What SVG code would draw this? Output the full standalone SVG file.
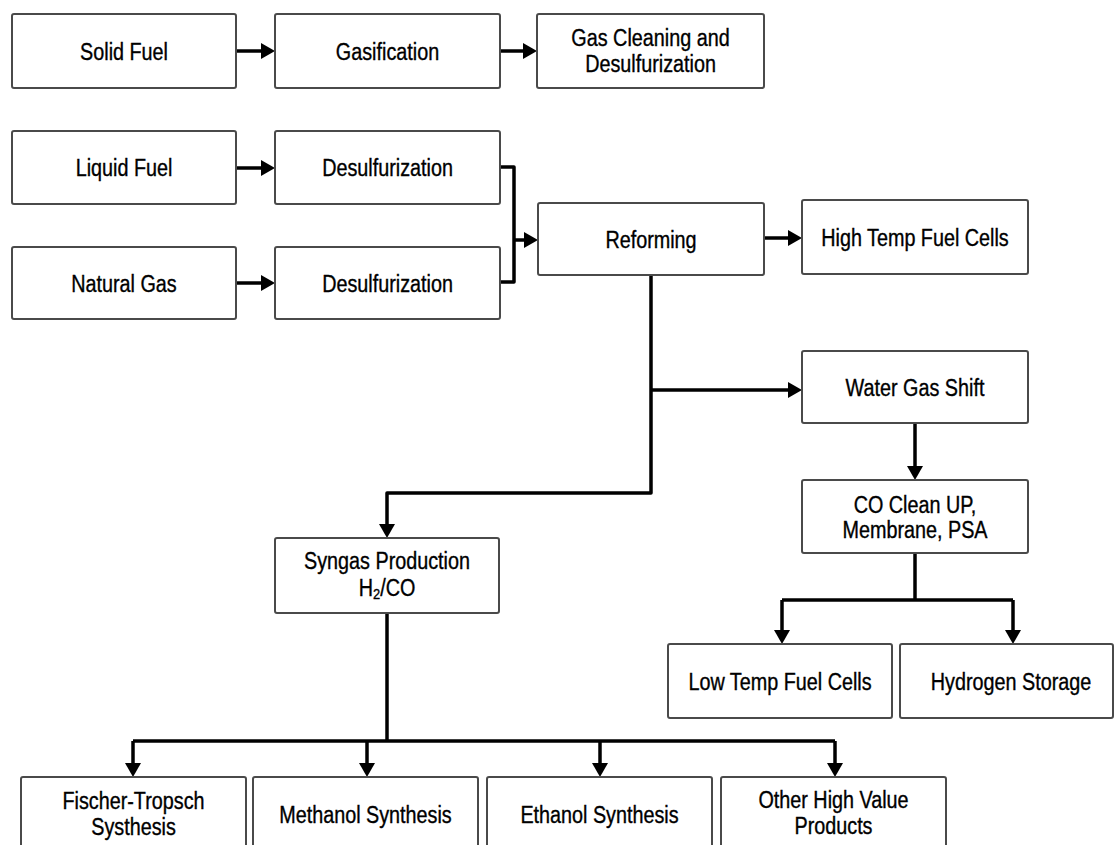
<svg xmlns="http://www.w3.org/2000/svg" width="1115" height="845" viewBox="0 0 1115 845">
  <defs>
    <marker id="arrow" viewBox="0 0 14 16" refX="10" refY="8" markerWidth="14" markerHeight="16" orient="auto" markerUnits="userSpaceOnUse">
      <path d="M0,0 L14,8 L0,16 z" fill="#000"/>
    </marker>
    <style>
      .box { fill: #fff; stroke: #4a4a4a; stroke-width: 2; }
      .lbl { font-family: "Liberation Sans", Arial, sans-serif; font-size: 23px; fill: #000; stroke: #000; stroke-width: 0.35; text-anchor: middle; }
      .link { fill: none; stroke: #000; stroke-width: 3.5; stroke-linejoin: round; }
      .arr { marker-end: url(#arrow); }
    </style>
  </defs>
  <rect width="1115" height="845" fill="#fff"/>

  <!-- connectors -->
  <g id="connectors">
    <path class="link arr" d="M236,51 H271"/>
    <path class="link arr" d="M500,51 H533"/>
    <path class="link arr" d="M236,168 H271"/>
    <path class="link arr" d="M236,283 H271"/>
    <path class="link" d="M500,167 H514 V282 H500"/>
    <path class="link arr" d="M514,240 H534"/>
    <path class="link arr" d="M764,238 H798"/>
    <path class="link arr" d="M651,275 V493 H387 V534"/>
    <path class="link arr" d="M651,390 H798"/>
    <path class="link arr" d="M915,423 V476"/>
    <path class="link" d="M915,553 V600"/>
    <path class="link" d="M782,600 H1013"/>
    <path class="link arr" d="M782,600 V640"/>
    <path class="link arr" d="M1013,600 V640"/>
    <path class="link" d="M387,613 V741"/>
    <path class="link" d="M133,741 H835"/>
    <path class="link arr" d="M133,741 V773"/>
    <path class="link arr" d="M367,741 V773"/>
    <path class="link arr" d="M600,741 V773"/>
    <path class="link arr" d="M835,741 V773"/>
  </g>

  <!-- fuel inputs and pre-treatment -->
  <g id="solid-fuel">
    <rect class="box" x="12" y="14" width="224" height="74" rx="2"/>
    <text class="lbl" transform="translate(124,59.5) scale(0.86,1)">Solid Fuel</text>
  </g>
  <g id="gasification">
    <rect class="box" x="275" y="14" width="225" height="74" rx="2"/>
    <text class="lbl" transform="translate(387.5,59.5) scale(0.86,1)">Gasification</text>
  </g>
  <g id="gas-cleaning">
    <rect class="box" x="537" y="14" width="227" height="74" rx="2"/>
    <text class="lbl" transform="translate(650.5,46) scale(0.86,1)"><tspan x="0" y="0">Gas Cleaning and</tspan><tspan x="0" y="26">Desulfurization</tspan></text>
  </g>
  <g id="liquid-fuel">
    <rect class="box" x="12" y="131" width="224" height="73" rx="2"/>
    <text class="lbl" transform="translate(124,176) scale(0.86,1)">Liquid Fuel</text>
  </g>
  <g id="desulfurization-1">
    <rect class="box" x="275" y="131" width="225" height="73" rx="2"/>
    <text class="lbl" transform="translate(387.5,176) scale(0.86,1)">Desulfurization</text>
  </g>
  <g id="natural-gas">
    <rect class="box" x="12" y="247" width="224" height="72" rx="2"/>
    <text class="lbl" transform="translate(124,291.5) scale(0.86,1)">Natural Gas</text>
  </g>
  <g id="desulfurization-2">
    <rect class="box" x="275" y="247" width="225" height="72" rx="2"/>
    <text class="lbl" transform="translate(387.5,291.5) scale(0.86,1)">Desulfurization</text>
  </g>

  <!-- reforming and hydrogen path -->
  <g id="reforming">
    <rect class="box" x="538" y="203" width="226" height="72" rx="2"/>
    <text class="lbl" transform="translate(651,247.5) scale(0.86,1)">Reforming</text>
  </g>
  <g id="high-temp-fuel-cells">
    <rect class="box" x="802" y="200" width="226" height="74" rx="2"/>
    <text class="lbl" transform="translate(915,245.5) scale(0.86,1)">High Temp Fuel Cells</text>
  </g>
  <g id="water-gas-shift">
    <rect class="box" x="802" y="351" width="226" height="72" rx="2"/>
    <text class="lbl" transform="translate(915,395.5) scale(0.86,1)">Water Gas Shift</text>
  </g>
  <g id="co-clean-up">
    <rect class="box" x="802" y="480" width="226" height="73" rx="2"/>
    <text class="lbl" transform="translate(915,513) scale(0.86,1)"><tspan x="0" y="0">CO Clean UP,</tspan><tspan x="0" y="25">Membrane, PSA</tspan></text>
  </g>
  <g id="low-temp-fuel-cells">
    <rect class="box" x="668" y="644" width="224" height="74" rx="2"/>
    <text class="lbl" transform="translate(780,689.5) scale(0.86,1)">Low Temp Fuel Cells</text>
  </g>
  <g id="hydrogen-storage">
    <rect class="box" x="900" y="644" width="213" height="74" rx="2"/>
    <text class="lbl" transform="translate(1011,689.5) scale(0.86,1)">Hydrogen Storage</text>
  </g>

  <!-- syngas path -->
  <g id="syngas-production">
    <rect class="box" x="275" y="538" width="224" height="75" rx="2"/>
    <text class="lbl" transform="translate(387,569) scale(0.86,1)"><tspan x="0" y="0">Syngas Production</tspan><tspan x="0" y="27">H<tspan font-size="15" dy="3">2</tspan><tspan dy="-3">/CO</tspan></tspan></text>
  </g>
  <g id="fischer-tropsch">
    <rect class="box" x="21" y="777" width="225" height="90" rx="2"/>
    <text class="lbl" transform="translate(133.5,809) scale(0.86,1)"><tspan x="0" y="0">Fischer-Tropsch</tspan><tspan x="0" y="26">Systhesis</tspan></text>
  </g>
  <g id="methanol-synthesis">
    <rect class="box" x="253" y="777" width="225" height="90" rx="2"/>
    <text class="lbl" transform="translate(365.5,823) scale(0.86,1)">Methanol Synthesis</text>
  </g>
  <g id="ethanol-synthesis">
    <rect class="box" x="487" y="777" width="225" height="90" rx="2"/>
    <text class="lbl" transform="translate(599.5,823) scale(0.86,1)">Ethanol Synthesis</text>
  </g>
  <g id="other-products">
    <rect class="box" x="721" y="777" width="225" height="90" rx="2"/>
    <text class="lbl" transform="translate(833.5,808) scale(0.86,1)"><tspan x="0" y="0">Other High Value</tspan><tspan x="0" y="26">Products</tspan></text>
  </g>
</svg>
